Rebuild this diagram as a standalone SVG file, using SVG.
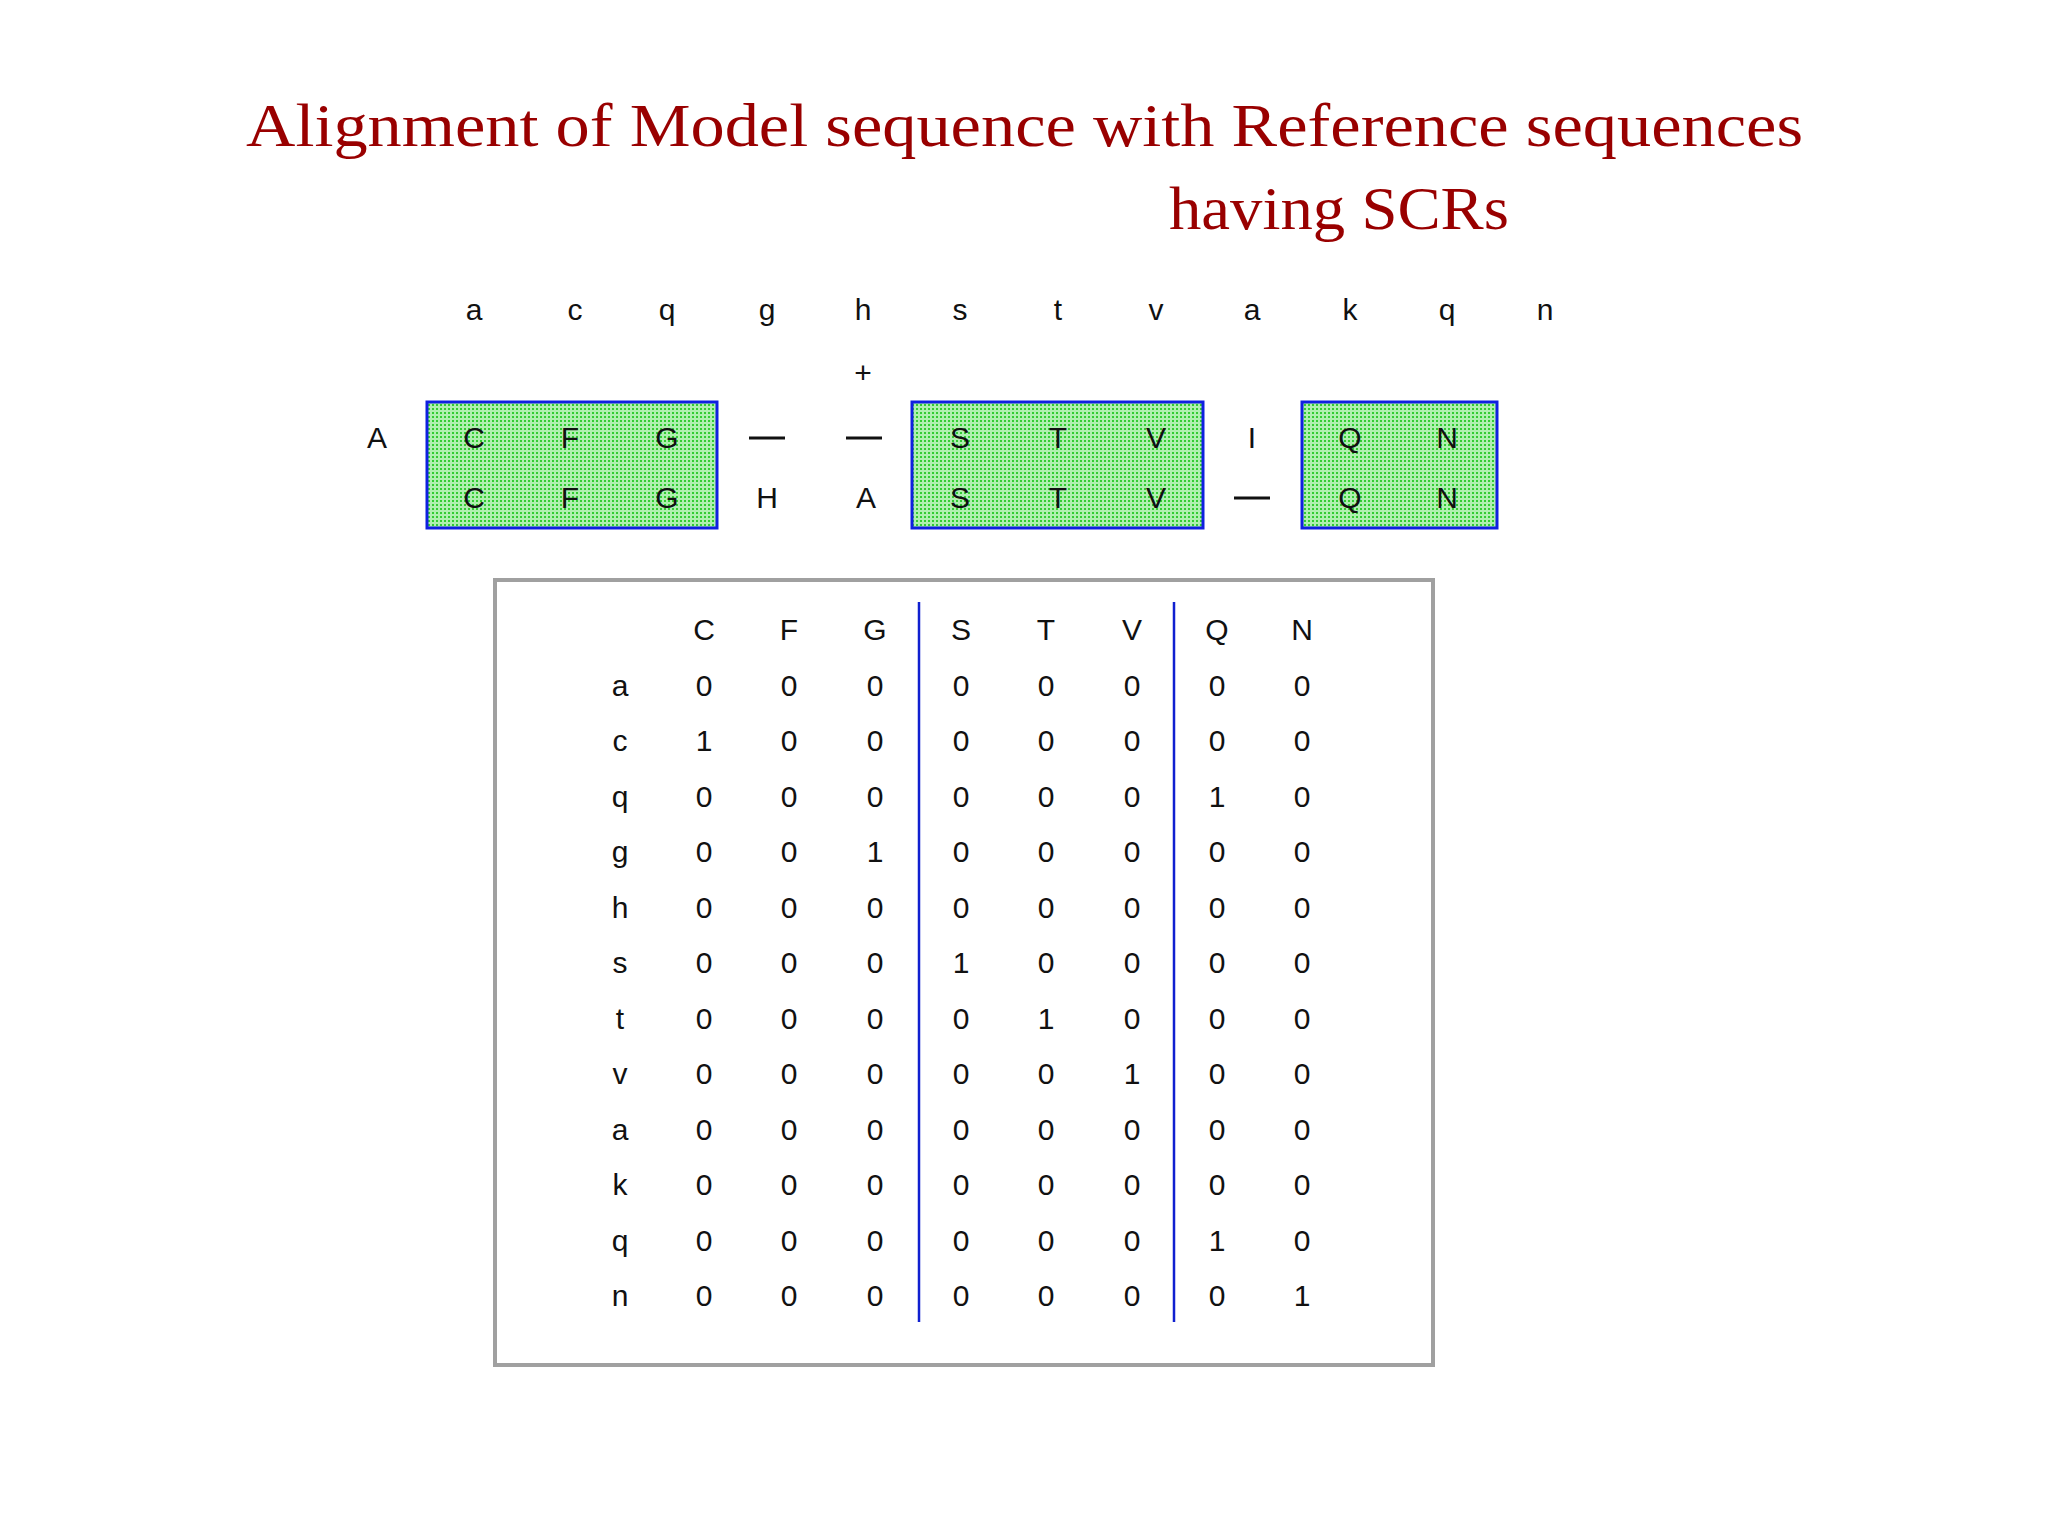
<svg xmlns="http://www.w3.org/2000/svg" width="2048" height="1536" viewBox="0 0 2048 1536">
<style>
.t{font-family:"Liberation Serif","DejaVu Serif",serif;font-size:62px;fill:#990000}
.s{font-family:"Liberation Sans","DejaVu Sans",sans-serif;font-size:30px;fill:#111;text-anchor:middle}
.box{fill:url(#dots);stroke:#1020e0;stroke-width:3}
</style>
<defs>
<pattern id="dots" width="4" height="4" patternUnits="userSpaceOnUse">
<rect width="4" height="4" fill="#b0f0b0"/><rect width="2" height="2" fill="#33cc33"/>
</pattern>
</defs>
<rect width="2048" height="1536" fill="#fff"/>
<g id="title">
<text class="t" x="246" y="146" textLength="1557" lengthAdjust="spacingAndGlyphs">Alignment of Model sequence with Reference sequences</text>
<text class="t" x="1169" y="229" textLength="340" lengthAdjust="spacingAndGlyphs">having SCRs</text>
</g>
<g id="model">
<text class="s" x="474" y="320">a</text><text class="s" x="575" y="320">c</text><text class="s" x="667" y="320">q</text><text class="s" x="767" y="320">g</text><text class="s" x="863" y="320">h</text><text class="s" x="960" y="320">s</text><text class="s" x="1058" y="320">t</text><text class="s" x="1156" y="320">v</text><text class="s" x="1252" y="320">a</text><text class="s" x="1350" y="320">k</text><text class="s" x="1447" y="320">q</text><text class="s" x="1545" y="320">n</text>
<text class="s" x="863" y="383">+</text>
</g>
<g id="scr1"><rect class="box" x="427" y="402" width="290" height="126"/></g>
<g id="scr2"><rect class="box" x="912" y="402" width="291" height="126"/></g>
<g id="scr3"><rect class="box" x="1302" y="402" width="195" height="126"/></g>
<g id="refs">
<text class="s" x="377" y="448">A</text>
<text class="s" x="474" y="448">C</text><text class="s" x="570" y="448">F</text><text class="s" x="667" y="448">G</text>
<text class="s" x="960" y="448">S</text><text class="s" x="1058" y="448">T</text><text class="s" x="1156" y="448">V</text>
<text class="s" x="1252" y="448">I</text>
<text class="s" x="1350" y="448">Q</text><text class="s" x="1447" y="448">N</text>
<text class="s" x="474" y="508">C</text><text class="s" x="570" y="508">F</text><text class="s" x="667" y="508">G</text>
<text class="s" x="767" y="508">H</text><text class="s" x="866" y="508">A</text>
<text class="s" x="960" y="508">S</text><text class="s" x="1058" y="508">T</text><text class="s" x="1156" y="508">V</text>
<text class="s" x="1350" y="508">Q</text><text class="s" x="1447" y="508">N</text>
<g stroke="#111" stroke-width="3">
<line x1="749" y1="438" x2="785" y2="438"/><line x1="846" y1="438" x2="882" y2="438"/><line x1="1234" y1="498" x2="1270" y2="498"/>
</g>
</g>
<g id="table">
<rect x="495" y="580" width="938" height="785" fill="none" stroke="#a0a0a0" stroke-width="4"/>
<g stroke="#1020d0" stroke-width="2.5"><line x1="919" y1="602" x2="919" y2="1322"/><line x1="1174" y1="602" x2="1174" y2="1322"/></g>
<g>
<text class="s" x="704" y="640">C</text><text class="s" x="789" y="640">F</text><text class="s" x="875" y="640">G</text><text class="s" x="961" y="640">S</text><text class="s" x="1046" y="640">T</text><text class="s" x="1132" y="640">V</text><text class="s" x="1217" y="640">Q</text><text class="s" x="1302" y="640">N</text>
</g>
<g id="rows">
<text class="s" x="620" y="696">a</text><text class="s" x="620" y="751">c</text><text class="s" x="620" y="807">q</text><text class="s" x="620" y="862">g</text><text class="s" x="620" y="918">h</text><text class="s" x="620" y="973">s</text><text class="s" x="620" y="1029">t</text><text class="s" x="620" y="1084">v</text><text class="s" x="620" y="1140">a</text><text class="s" x="620" y="1195">k</text><text class="s" x="620" y="1251">q</text><text class="s" x="620" y="1306">n</text>
<text class="s" y="696"><tspan x="704">0</tspan><tspan x="789">0</tspan><tspan x="875">0</tspan><tspan x="961">0</tspan><tspan x="1046">0</tspan><tspan x="1132">0</tspan><tspan x="1217">0</tspan><tspan x="1302">0</tspan></text>
<text class="s" y="751"><tspan x="704">1</tspan><tspan x="789">0</tspan><tspan x="875">0</tspan><tspan x="961">0</tspan><tspan x="1046">0</tspan><tspan x="1132">0</tspan><tspan x="1217">0</tspan><tspan x="1302">0</tspan></text>
<text class="s" y="807"><tspan x="704">0</tspan><tspan x="789">0</tspan><tspan x="875">0</tspan><tspan x="961">0</tspan><tspan x="1046">0</tspan><tspan x="1132">0</tspan><tspan x="1217">1</tspan><tspan x="1302">0</tspan></text>
<text class="s" y="862"><tspan x="704">0</tspan><tspan x="789">0</tspan><tspan x="875">1</tspan><tspan x="961">0</tspan><tspan x="1046">0</tspan><tspan x="1132">0</tspan><tspan x="1217">0</tspan><tspan x="1302">0</tspan></text>
<text class="s" y="918"><tspan x="704">0</tspan><tspan x="789">0</tspan><tspan x="875">0</tspan><tspan x="961">0</tspan><tspan x="1046">0</tspan><tspan x="1132">0</tspan><tspan x="1217">0</tspan><tspan x="1302">0</tspan></text>
<text class="s" y="973"><tspan x="704">0</tspan><tspan x="789">0</tspan><tspan x="875">0</tspan><tspan x="961">1</tspan><tspan x="1046">0</tspan><tspan x="1132">0</tspan><tspan x="1217">0</tspan><tspan x="1302">0</tspan></text>
<text class="s" y="1029"><tspan x="704">0</tspan><tspan x="789">0</tspan><tspan x="875">0</tspan><tspan x="961">0</tspan><tspan x="1046">1</tspan><tspan x="1132">0</tspan><tspan x="1217">0</tspan><tspan x="1302">0</tspan></text>
<text class="s" y="1084"><tspan x="704">0</tspan><tspan x="789">0</tspan><tspan x="875">0</tspan><tspan x="961">0</tspan><tspan x="1046">0</tspan><tspan x="1132">1</tspan><tspan x="1217">0</tspan><tspan x="1302">0</tspan></text>
<text class="s" y="1140"><tspan x="704">0</tspan><tspan x="789">0</tspan><tspan x="875">0</tspan><tspan x="961">0</tspan><tspan x="1046">0</tspan><tspan x="1132">0</tspan><tspan x="1217">0</tspan><tspan x="1302">0</tspan></text>
<text class="s" y="1195"><tspan x="704">0</tspan><tspan x="789">0</tspan><tspan x="875">0</tspan><tspan x="961">0</tspan><tspan x="1046">0</tspan><tspan x="1132">0</tspan><tspan x="1217">0</tspan><tspan x="1302">0</tspan></text>
<text class="s" y="1251"><tspan x="704">0</tspan><tspan x="789">0</tspan><tspan x="875">0</tspan><tspan x="961">0</tspan><tspan x="1046">0</tspan><tspan x="1132">0</tspan><tspan x="1217">1</tspan><tspan x="1302">0</tspan></text>
<text class="s" y="1306"><tspan x="704">0</tspan><tspan x="789">0</tspan><tspan x="875">0</tspan><tspan x="961">0</tspan><tspan x="1046">0</tspan><tspan x="1132">0</tspan><tspan x="1217">0</tspan><tspan x="1302">1</tspan></text>
</g>
</g>
</svg>
